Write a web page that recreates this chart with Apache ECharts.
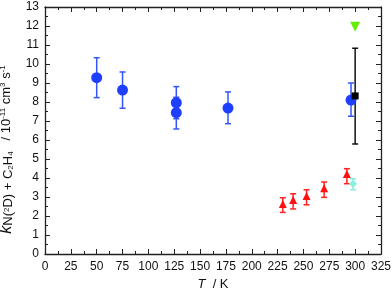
<!DOCTYPE html>
<html>
<head>
<meta charset="utf-8">
<script src="https://cdn.jsdelivr.net/npm/echarts@6/dist/echarts.min.js"></script>
<style>
  html, body { margin: 0; padding: 0; background: #fff; }
  #chart { width: 392px; height: 288px; }
</style>
</head>
<body>
<div id="chart"></div>
<script>
// data: [T, k, low, high]
const bluePts = [
  [50, 9.28, 8.23, 10.33],
  [75, 8.63, 7.67, 9.58],
  [127, 7.96, 7.12, 8.81],
  [127, 7.44, 6.58, 8.25],
  [177, 7.68, 6.86, 8.53],
  [296, 8.1, 7.25, 9.0]
];
const redPts = [
  [230, 2.63, 2.19, 2.96],
  [240, 2.84, 2.37, 3.17],
  [253, 3.05, 2.59, 3.38],
  [270, 3.46, 2.98, 3.79],
  [292, 4.21, 3.7, 4.49]
];
const blackPts = [[300, 8.32, 5.79, 10.83]];
const cyanPts = [[298, 3.7, 3.38, 3.96]];
const greenPts = [[300, 11.96]];

const xTicks = { min: 0, max: 325, interval: 25 };
const yTicks = { min: 0, max: 13, interval: 1 };

const font = "Liberation Sans, Arial, sans-serif";
const chart = echarts.init(document.getElementById("chart"), null, { renderer: "canvas" });

function errBars(pts, color, name) {
  return {
    type: "custom", name: name, xAxisIndex: 0, yAxisIndex: 0,
    data: pts.map(p => [p[0], p[2], p[3]]),
    renderItem: function (params, api) {
      const lo = api.coord([api.value(0), api.value(1)]);
      const hi = api.coord([api.value(0), api.value(2)]);
      const w = 3;
      const st = { stroke: color, lineWidth: 1.5 };
      return {
        type: "group",
        children: [
          { type: "line", shape: { x1: lo[0], y1: lo[1], x2: hi[0], y2: hi[1] }, style: st },
          { type: "line", shape: { x1: lo[0] - w, y1: lo[1], x2: lo[0] + w, y2: lo[1] }, style: st },
          { type: "line", shape: { x1: hi[0] - w, y1: hi[1], x2: hi[0] + w, y2: hi[1] }, style: st }
        ]
      };
    },
    z: 2
  };
}

function marks(pts, color, symbol, size) {
  return {
    type: "scatter", xAxisIndex: 0, yAxisIndex: 0,
    data: pts.map(p => [p[0], p[1]]),
    symbol: symbol, symbolSize: size,
    itemStyle: { color: color, opacity: 1 },
    z: 3
  };
}

const axisLine = { onZero: false, lineStyle: { color: "#222", width: 1.3 } };
const tick = { inside: true, length: 5, lineStyle: { color: "#222" } };
const minor = { show: true, splitNumber: 2, length: 3, lineStyle: { color: "#222" } };

chart.setOption({
  animation: false,
  backgroundColor: "#fff",
  grid: { left: 45, right: 11, top: 7, bottom: 34, outerBoundsMode: "none", containLabel: false },
  xAxis: [
    {
      type: "value", ...xTicks, position: "bottom",
      axisLine: axisLine, axisTick: tick, minorTick: minor,
      splitLine: { show: false },
      axisLabel: { color: "#111", fontFamily: font, fontSize: 12, margin: 7 },
      name: "{i|T}{n|  / K}", nameLocation: "middle", nameGap: 20,
      nameTextStyle: {
        rich: {
          i: { fontStyle: "italic", fontFamily: font, fontSize: 13, color: "#111" },
          n: { fontFamily: font, fontSize: 13, color: "#111" }
        }
      }
    },
    {
      type: "value", ...xTicks, position: "top",
      axisLine: axisLine, axisTick: tick, minorTick: minor,
      splitLine: { show: false }, axisLabel: { show: false }
    }
  ],
  yAxis: [
    {
      type: "value", ...yTicks, position: "left",
      axisLine: axisLine, axisTick: tick, minorTick: minor,
      splitLine: { show: false },
      axisLabel: { color: "#111", fontFamily: font, fontSize: 12, margin: 6 },
      name: "{i|k}{s|N(}{ss|2}{s|D) + C}{sb|2}{s|H}{sb|4}{n|   / 10}{sp|-11}{n| cm}{sp|3}{n| s}{sp|-1}",
      nameLocation: "middle", nameRotate: 90, nameGap: 23,
      nameTextStyle: {
        padding: [0, 38, 0, 0],
        rich: {
          i: { fontStyle: "italic", fontFamily: font, fontSize: 16, color: "#111", verticalAlign: "middle" },
          s: { fontFamily: font, fontSize: 13, color: "#111", verticalAlign: "bottom" },
          ss: { fontFamily: font, fontSize: 8, color: "#111", verticalAlign: "middle" },
          sb: { fontFamily: font, fontSize: 8, color: "#111", verticalAlign: "bottom" },
          n: { fontFamily: font, fontSize: 13, color: "#111", verticalAlign: "middle" },
          sp: { fontFamily: font, fontSize: 8, color: "#111", verticalAlign: "top" }
        }
      }
    },
    {
      type: "value", ...yTicks, position: "right",
      axisLine: axisLine, axisTick: tick, minorTick: minor,
      splitLine: { show: false }, axisLabel: { show: false }
    }
  ],
  series: [
    errBars(bluePts, "#3355ff", "blueErr"),
    errBars(redPts, "#ff2222", "redErr"),
    errBars(blackPts, "#111111", "blackErr"),
    errBars(cyanPts, "#88eedd", "cyanErr"),
    marks(bluePts, "#1f3fff", "circle", 11),
    marks(redPts, "#ff1111", "triangle", 8),
    marks(blackPts, "#000000", "rect", 7),
    marks(cyanPts, "#88f0dc", "diamond", 8),
    marks(greenPts, "#66ee00", "path://M0,0 L10,0 L5,9 Z", 10)
  ]
});
</script>
</body>
</html>
